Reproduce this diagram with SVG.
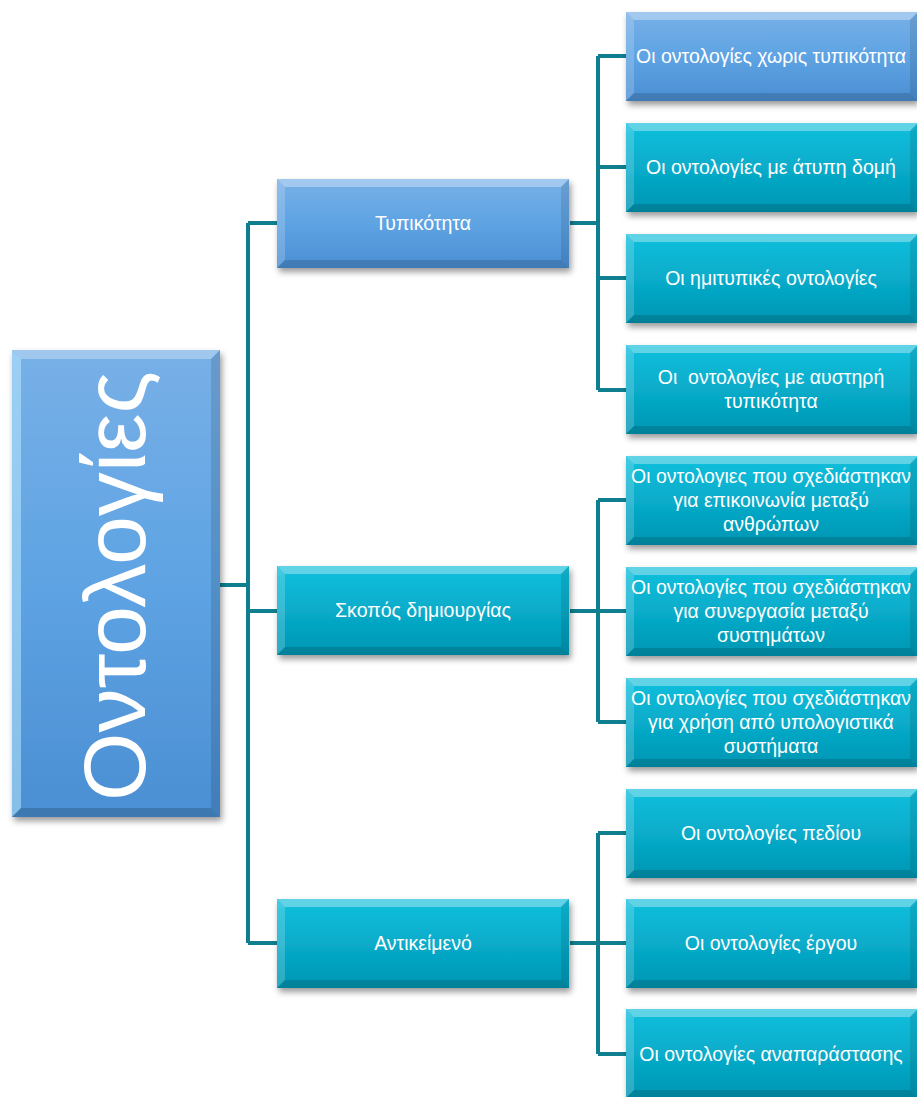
<svg xmlns="http://www.w3.org/2000/svg" xmlns:xlink="http://www.w3.org/1999/xlink" width="917" height="1097" viewBox="0 0 917 1097">
  <style>
    .lbl { font-family: "Liberation Sans", "Noto Sans", Arial, sans-serif; font-size: 19.5px; fill: #ffffff; text-anchor: middle; }
    .root-lbl { font-family: "Liberation Sans", "Noto Sans", Arial, sans-serif; font-size: 88px; fill: #ffffff; text-anchor: middle; }
    .blue { fill: url(#gBlue); filter: url(#shadow); }
    .teal { fill: url(#gTeal); filter: url(#shadow); }
    .link { fill: none; stroke: #0f7f8f; stroke-width: 4; stroke-linejoin: miter; }
  </style>
  <defs>
    <linearGradient id="gBlue" x1="0" y1="0" x2="0" y2="1">
      <stop offset="0" stop-color="#78b0e7"/>
      <stop offset="0.5" stop-color="#5ea3e3"/>
      <stop offset="1" stop-color="#4b8fd3"/>
    </linearGradient>
    <linearGradient id="gTeal" x1="0" y1="0" x2="0" y2="1">
      <stop offset="0" stop-color="#14c0dd"/>
      <stop offset="0.5" stop-color="#07acca"/>
      <stop offset="1" stop-color="#0396b3"/>
    </linearGradient>
    <filter id="shadow" x="-10%" y="-10%" width="125%" height="130%">
      <feDropShadow dx="2" dy="4" stdDeviation="3" flood-color="#000000" flood-opacity="0.4"/>
    </filter>
    <!-- bevelled edges for the 292x89 boxes -->
    <g id="bevel">
      <polygon points="0,0 292,0 284,8 8,8" fill="#ffffff" fill-opacity="0.32"/>
      <polygon points="0,0 8,8 8,81 0,89" fill="#ffffff" fill-opacity="0.18"/>
      <polygon points="292,0 292,89 284,81 284,8" fill="#000000" fill-opacity="0.1"/>
      <polygon points="0,89 8,81 284,81 292,89" fill="#000000" fill-opacity="0.14"/>
    </g>
  </defs>

  <!-- connectors -->
  <g id="connectors" class="link">
    <path d="M220,585 H248 M248,223 V943 M248,223 H277 M248,611 H277 M248,943 H277"/>
    <path d="M570,223 H598 M598,56 V390 M598,56 H626 M598,167 H626 M598,278 H626 M598,390 H626"/>
    <path d="M570,611 H598 M598,500 V722 M598,500 H626 M598,611 H626 M598,722 H626"/>
    <path d="M570,943 H598 M598,833 V1054 M598,833 H626 M598,943 H626 M598,1054 H626"/>
  </g>

  <!-- root -->
  <g id="root">
    <rect class="blue" x="12" y="350" width="208" height="467"/>
    <polygon points="12,350 220,350 211,359 21,359" fill="#ffffff" fill-opacity="0.3"/>
    <polygon points="12,350 21,359 21,808 12,817" fill="#bff0ff" fill-opacity="0.5"/>
    <polygon points="220,350 220,817 211,808 211,359" fill="#000000" fill-opacity="0.12"/>
    <polygon points="12,817 21,808 211,808 220,817" fill="#000000" fill-opacity="0.16"/>
    <text class="root-lbl" transform="translate(145,586) rotate(-90)">Οντολογίες</text>
  </g>

  <!-- first level -->
  <g id="n-typikotita">
    <rect class="blue" x="277" y="179" width="292" height="89"/>
    <use xlink:href="#bevel" x="277" y="179"/>
    <text class="lbl" x="423" y="230">Τυπικότητα</text>
  </g>
  <g id="n-skopos">
    <rect class="teal" x="277" y="566" width="292" height="89"/>
    <use xlink:href="#bevel" x="277" y="566"/>
    <text class="lbl" x="423" y="617">Σκοπός δημιουργίας</text>
  </g>
  <g id="n-antikeimeno">
    <rect class="teal" x="277" y="899" width="292" height="89"/>
    <use xlink:href="#bevel" x="277" y="899"/>
    <text class="lbl" x="423" y="950">Αντικείμενό</text>
  </g>

  <!-- second level -->
  <g id="n-xoris">
    <rect class="blue" x="626" y="12" width="291" height="89"/>
    <use xlink:href="#bevel" x="626" y="12"/>
    <text class="lbl" x="771" y="63">Οι οντολογίες χωρις τυπικότητα</text>
  </g>
  <g id="n-atypi">
    <rect class="teal" x="626" y="123" width="291" height="89"/>
    <use xlink:href="#bevel" x="626" y="123"/>
    <text class="lbl" x="771" y="174">Οι οντολογίες με άτυπη δομή</text>
  </g>
  <g id="n-imitypikes">
    <rect class="teal" x="626" y="234" width="291" height="89"/>
    <use xlink:href="#bevel" x="626" y="234"/>
    <text class="lbl" x="771" y="285">Οι ημιτυπικές οντολογίες</text>
  </g>
  <g id="n-afstiri">
    <rect class="teal" x="626" y="345" width="291" height="89"/>
    <use xlink:href="#bevel" x="626" y="345"/>
    <text class="lbl" x="771" y="384" xml:space="preserve">Οι  οντολογίες με αυστηρή</text>
    <text class="lbl" x="771" y="408">τυπικότητα</text>
  </g>
  <g id="n-anthropoi">
    <rect class="teal" x="626" y="456" width="291" height="89"/>
    <use xlink:href="#bevel" x="626" y="456"/>
    <text class="lbl" x="771" y="483">Οι οντολογιες που σχεδιάστηκαν</text>
    <text class="lbl" x="771" y="507">για επικοινωνία μεταξύ</text>
    <text class="lbl" x="771" y="531">ανθρώπων</text>
  </g>
  <g id="n-synergasia">
    <rect class="teal" x="626" y="567" width="291" height="89"/>
    <use xlink:href="#bevel" x="626" y="567"/>
    <text class="lbl" x="771" y="594">Οι οντολογίες που σχεδιάστηκαν</text>
    <text class="lbl" x="771" y="618">για συνεργασία μεταξύ</text>
    <text class="lbl" x="771" y="642">συστημάτων</text>
  </g>
  <g id="n-ypologistika">
    <rect class="teal" x="626" y="678" width="291" height="89"/>
    <use xlink:href="#bevel" x="626" y="678"/>
    <text class="lbl" x="771" y="705">Οι οντολογίες που σχεδιάστηκαν</text>
    <text class="lbl" x="771" y="729">για χρήση από υπολογιστικά</text>
    <text class="lbl" x="771" y="753">συστήματα</text>
  </g>
  <g id="n-pediou">
    <rect class="teal" x="626" y="789" width="291" height="89"/>
    <use xlink:href="#bevel" x="626" y="789"/>
    <text class="lbl" x="771" y="840">Οι οντολογίες πεδίου</text>
  </g>
  <g id="n-ergou">
    <rect class="teal" x="626" y="899" width="291" height="89"/>
    <use xlink:href="#bevel" x="626" y="899"/>
    <text class="lbl" x="771" y="950">Οι οντολογίες έργου</text>
  </g>
  <g id="n-anaparastasis">
    <rect class="teal" x="626" y="1009" width="291" height="89"/>
    <use xlink:href="#bevel" x="626" y="1009"/>
    <text class="lbl" x="771" y="1061">Οι οντολογίες αναπαράστασης</text>
  </g>
</svg>
